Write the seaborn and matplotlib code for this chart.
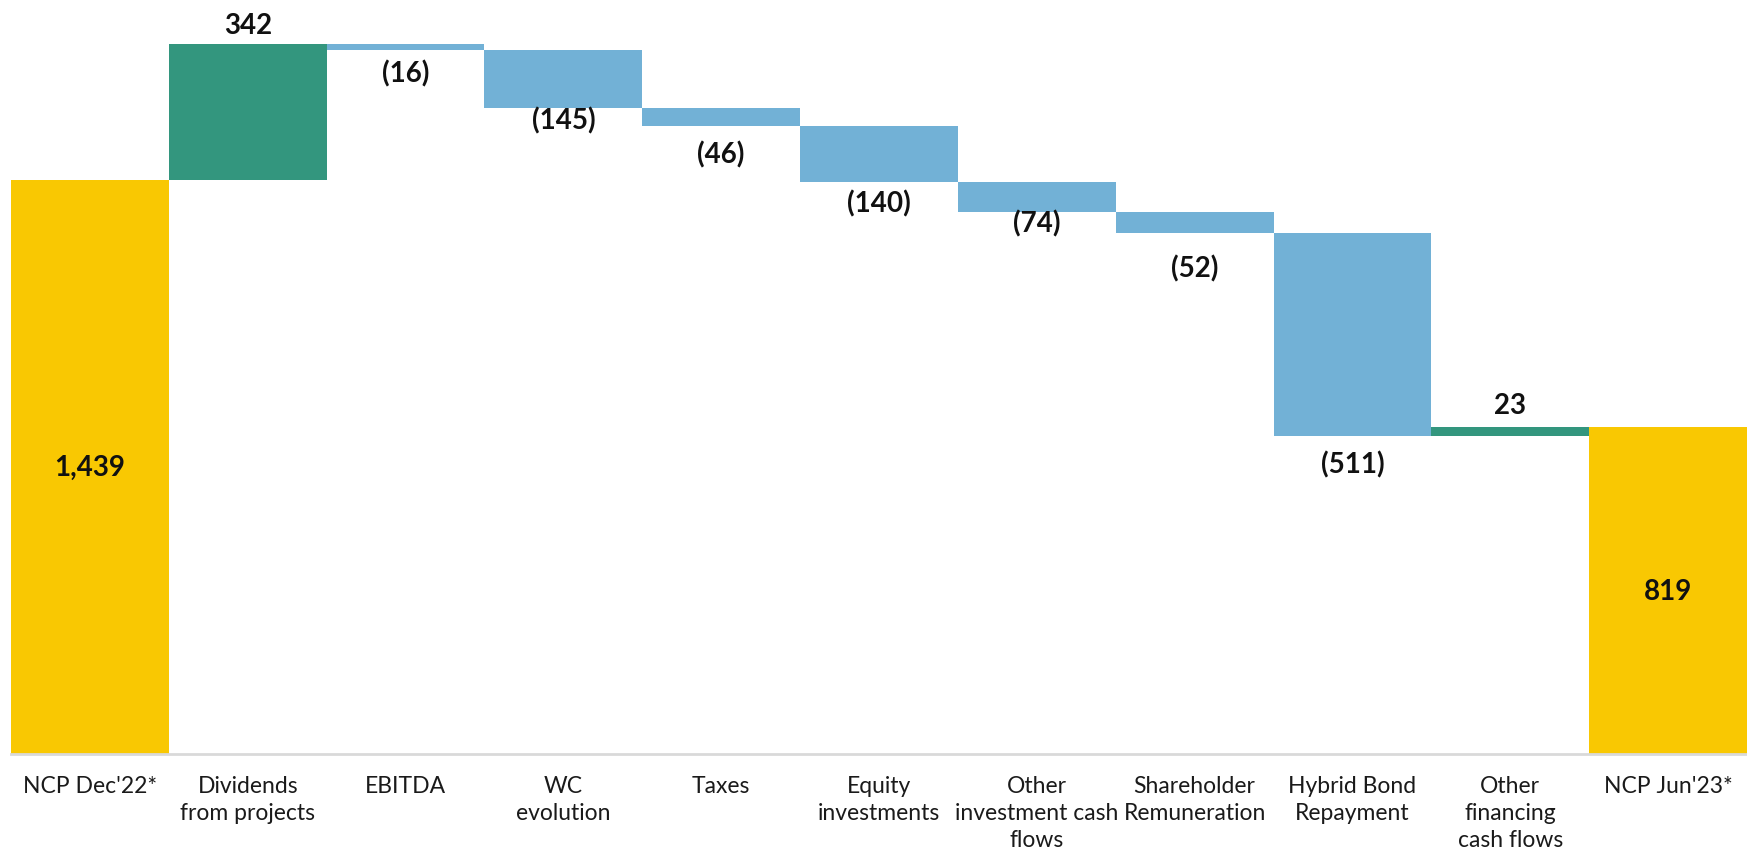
import matplotlib
matplotlib.use("Agg")
import matplotlib.pyplot as plt
import seaborn as sns
import pandas as pd
import numpy as np

# ---- data ----
categories = ["NCP Dec'22*", "Dividends\nfrom projects", "EBITDA", "WC\nevolution", "Taxes",
              "Equity\ninvestments", "Other\ninvestment cash\nflows", "Shareholder\nRemuneration",
              "Hybrid Bond\nRepayment", "Other\nfinancing\ncash flows", "NCP Jun'23*"]
values = [1439, 342, -16, -145, -46, -140, -74, -52, -511, 23, 819]
kinds = ["total", "up", "down", "down", "down", "down", "down", "down", "down", "up", "total"]
value_labels = ["1,439", "342", "(16)", "(145)", "(46)", "(140)", "(74)", "(52)", "(511)", "23", "819"]

# ---- styling ----
colors = {"total": "#F9C802", "up": "#33967E", "down": "#72B1D6"}
# vertical pixel offset of each label centre from the bar edge (styling only)
label_gap_px = [0, 19, 23, 12, 27, 21, 11, 35, 28, 22, 0]

# compute floating bar extents
bottoms, tops = [], []
running = 0
for v, k in zip(values, kinds):
    if k == "total":
        b, t = 0, v
        running = v
    else:
        start = running
        running = running + v
        b, t = min(start, running), max(start, running)
    bottoms.append(b)
    tops.append(t)

df = pd.DataFrame({"category": categories, "top": tops, "bottom": bottoms, "kind": kinds})

sns.set_theme(style="white")
plt.rcParams["font.family"] = ["Lato", "DejaVu Sans"]

W, H = 1747, 854
fig = plt.figure(figsize=(W / 100, H / 100), dpi=100)
ax = fig.add_axes([11 / W, 99 / H, 1736 / W, 755 / H])

palette = [colors[k] for k in kinds]
sns.barplot(data=df, x="category", y="top", hue="category", palette=palette,
            dodge=False, legend=False, width=1.0, saturation=1, linewidth=0, ax=ax)

# turn bars into floating waterfall segments
for patch, b, t in zip(ax.patches, bottoms, tops):
    patch.set_y(b)
    patch.set_height(t - b)

ax.set_xlim(-0.5, len(categories) - 0.5)
px_per_unit = 0.3987
ax.set_ylim(0, 755 / px_per_unit)

for s in ["top", "right", "left"]:
    ax.spines[s].set_visible(False)
ax.spines["bottom"].set_color("#D9D9D9")
ax.spines["bottom"].set_linewidth(2)
ax.set_yticks([])
ax.set_xlabel("")
ax.set_ylabel("")
ax.tick_params(axis="x", length=0, pad=15, labelsize=16.5, colors="#1A1A1A")
for lbl in ax.get_xticklabels():
    lbl.set_linespacing(1.36)
    lbl.set_verticalalignment("top")

lab_font = dict(family=["Lato", "DejaVu Sans"], weight="bold", size=20, color="#111111")
for i, (k, v, b, t, txt, g) in enumerate(zip(kinds, values, bottoms, tops, value_labels, label_gap_px)):
    if k == "total":
        ax.annotate(txt, (i, (b + t) / 2), ha="center", va="center", **lab_font)
    elif v > 0:
        ax.annotate(txt, (i, t), xytext=(0, g), textcoords="offset pixels",
                    ha="center", va="center", **lab_font)
    else:
        ax.annotate(txt, (i, b), xytext=(0, -g), textcoords="offset pixels",
                    ha="center", va="center", **lab_font)

fig.savefig("out.png", dpi=100, facecolor="white")
